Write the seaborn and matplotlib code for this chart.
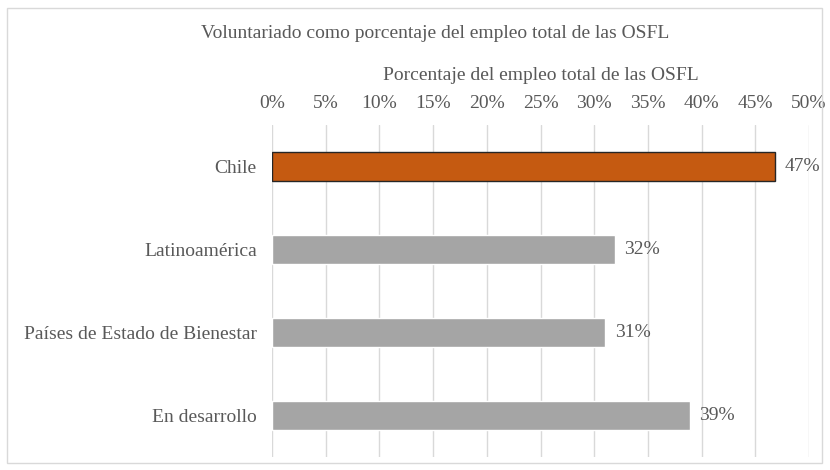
import matplotlib
matplotlib.use("Agg")
import matplotlib.pyplot as plt
import seaborn as sns
import pandas as pd
from matplotlib.patches import Rectangle
from matplotlib.ticker import PercentFormatter

# data
regions = ["Chile", "Latinoamérica", "Países de Estado de Bienestar", "En desarrollo"]
values = [46.8, 31.9, 31.0, 38.9]
colors = ["#C55A11", "#A5A5A5", "#A5A5A5", "#A5A5A5"]

sns.set_theme(style="white")
plt.rcParams['font.family'] = ['Liberation Serif', 'DejaVu Serif']

df = pd.DataFrame({"region": regions, "valor": values})
txt = "#595959"
fs = 14

fig = plt.figure(figsize=(8.3, 4.7), dpi=100)
ax = fig.add_axes([272 / 830, 1 - 457 / 470, (809 - 272) / 830, (457 - 125) / 470])

sns.barplot(data=df, x="valor", y="region", hue="region", palette=colors,
            legend=False, width=0.35, saturation=1, ax=ax, zorder=3)

# dark outline only on the Chile bar
ax.patches[0].set_edgecolor("#262626")
ax.patches[0].set_linewidth(1.0)

for i, v in enumerate(values):
    ax.text(v + 0.9, i, f"{round(v):.0f}%", va="center", ha="left",
            fontsize=fs, color=txt)

ax.set_xlim(0, 50)
ax.set_xticks(range(0, 51, 5))
ax.xaxis.set_major_formatter(PercentFormatter(decimals=0))
ax.xaxis.tick_top()
ax.xaxis.set_label_position("top")
ax.set_xlabel("Porcentaje del empleo total de las OSFL", fontsize=fs,
              color=txt, labelpad=11)
ax.set_ylabel("")
ax.tick_params(axis="x", length=0, labelsize=fs, labelcolor=txt, pad=9)
ax.tick_params(axis="y", length=0, labelsize=fs, labelcolor=txt, pad=11)
ax.grid(axis="x", color="#D9D9D9", linewidth=1, zorder=0)
for s in ax.spines.values():
    s.set_visible(False)

fig.text(435 / 830, 1 - 33 / 470, "Voluntariado como porcentaje del empleo total de las OSFL",
         ha="center", va="center", fontsize=fs, color=txt)

fig.patches.append(Rectangle((7 / 830, 7 / 470), 815 / 830, 455 / 470,
                             transform=fig.transFigure, fill=False,
                             edgecolor="#D9D9D9", linewidth=1))

fig.savefig("out.png", dpi=100)
